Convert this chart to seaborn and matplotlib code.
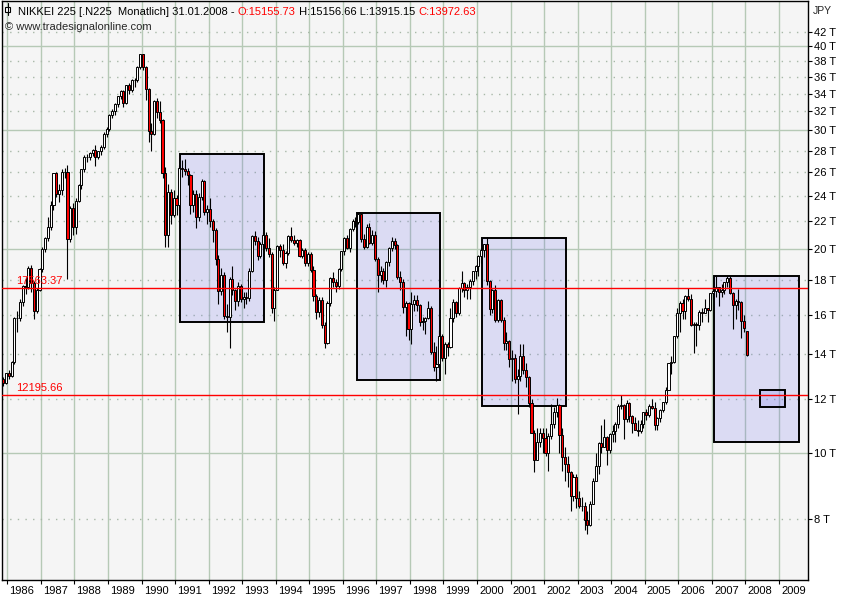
import numpy as np
import pandas as pd
import matplotlib
matplotlib.use("Agg")
import matplotlib.pyplot as plt
import matplotlib.transforms as mtransforms
from matplotlib.patches import Rectangle
from matplotlib.lines import Line2D
from matplotlib.ticker import NullLocator, NullFormatter
import seaborn as sns

# monthly candles of the NIKKEI 225, Nov 1985 .. Jan 2008, in thousand JPY
first_month = "1985-11"

open_ = [
    12.85, 12.70,
    13.11, 13.02, 13.64, 15.86, 15.83, 16.70, 17.65, 17.60, 18.79, 17.85, 16.20, 17.40,  # 1986
    18.70, 20.05, 20.77, 21.57, 23.27, 25.93, 24.18, 24.49, 26.03, 26.01, 20.70, 23.00,  # 1987
    21.56, 23.62, 24.90, 26.26, 27.43, 27.42, 27.77, 28.10, 27.37, 27.92, 28.36, 29.58,  # 1988
    30.16, 31.58, 31.99, 32.84, 33.71, 34.27, 32.95, 34.95, 34.43, 35.64, 35.55, 37.27,  # 1989
    38.92, 37.19, 34.59, 29.98, 29.58, 33.13, 31.94, 31.04, 25.98, 20.98, 24.30, 22.50,  # 1990
    23.85, 23.29, 26.41, 26.29, 26.11, 25.79, 23.29, 24.12, 22.34, 23.92, 25.22, 22.69,  # 1991
    22.98, 22.02, 21.34, 19.35, 17.39, 18.35, 15.95, 15.91, 18.06, 17.40, 16.77, 17.68,  # 1992
    16.92, 17.02, 16.95, 18.59, 20.92, 20.55, 19.59, 20.38, 21.03, 20.11, 19.70, 16.41,  # 1993
    17.42, 20.23, 19.99, 19.11, 19.73, 20.97, 20.64, 20.45, 20.63, 19.56, 19.99, 19.08,  # 1994
    19.72, 18.65, 17.05, 16.14, 16.81, 15.44, 14.52, 16.68, 18.12, 17.91, 17.65, 18.74,  # 1995
    19.87, 20.81, 20.13, 21.41, 22.04, 21.96, 22.53, 20.69, 20.17, 21.56, 20.47, 21.02,  # 1996
    19.36, 18.33, 18.56, 18.00, 19.15, 20.07, 20.61, 20.33, 18.23, 17.89, 16.46, 16.64,  # 1997
    15.26, 16.63, 16.83, 16.53, 15.64, 15.67, 15.83, 16.38, 14.11, 13.41, 13.56, 14.88,  # 1998
    13.84, 14.50, 14.37, 15.84, 16.70, 16.11, 17.53, 17.86, 17.44, 17.61, 17.94, 18.56,  # 1999
    18.93, 19.54, 19.96, 20.34, 17.97, 16.33, 17.41, 15.73, 16.86, 15.75, 14.54, 14.65,  # 2000
    13.79, 13.84, 12.88, 13.00, 13.93, 13.26, 12.97, 11.86, 10.71, 9.77, 10.37, 10.70,   # 2001
    10.54, 10.00, 10.59, 11.02, 11.49, 11.76, 10.62, 9.88, 9.62, 9.38, 8.64, 9.22,       # 2002
    8.58, 8.34, 8.36, 7.97, 7.83, 8.42, 9.08, 9.56, 10.34, 10.22, 10.56, 10.10,          # 2003
    10.68, 10.78, 11.04, 11.72, 11.76, 11.24, 11.86, 11.33, 11.08, 10.82, 10.77, 11.03,  # 2004
    11.49, 11.39, 11.74, 11.67, 11.01, 11.28, 11.58, 11.90, 12.41, 13.57, 13.61, 14.87,  # 2005
    16.11, 16.65, 16.21, 17.06, 16.91, 15.47, 15.51, 15.46, 16.14, 16.13, 16.40, 16.27,  # 2006
    17.23, 17.38, 17.60, 17.29, 17.40, 17.88, 18.14, 17.25, 16.57, 16.79, 16.74, 15.68,  # 2007
    15.156,                                                                              # 2008
]
high = [
    12.95, 13.15,
    13.25, 13.70, 15.90, 16.20, 16.90, 17.70, 18.20, 18.90, 18.95, 17.95, 17.55, 18.80,
    20.20, 20.90, 22.30, 23.60, 25.95, 26.00, 25.00, 26.30, 26.40, 26.65, 23.20, 23.40,
    23.80, 25.00, 26.30, 27.60, 27.70, 27.90, 28.20, 28.50, 28.00, 28.50, 29.80, 30.30,
    31.70, 32.30, 32.90, 33.75, 34.40, 34.45, 35.00, 35.20, 35.70, 35.90, 37.30, 38.96,
    38.95, 37.40, 34.70, 30.80, 33.30, 33.50, 33.20, 31.20, 26.50, 25.00, 24.60, 24.50,
    24.10, 26.70, 27.10, 27.20, 26.40, 25.90, 24.50, 24.50, 24.20, 25.40, 25.30, 23.30,
    23.80, 22.20, 21.50, 19.60, 18.80, 18.50, 16.60, 18.20, 18.90, 17.50, 17.90, 17.80,
    17.30, 17.30, 18.80, 21.00, 21.30, 20.90, 20.50, 21.20, 21.20, 20.80, 19.80, 17.60,
    20.30, 20.40, 20.40, 19.90, 21.00, 21.60, 21.00, 20.70, 20.70, 20.10, 20.10, 19.80,
    19.80, 18.90, 17.20, 17.00, 17.00, 15.60, 16.80, 18.20, 18.50, 18.10, 18.80, 19.90,
    20.90, 21.00, 21.50, 22.20, 22.30, 22.75, 22.60, 21.10, 21.80, 21.90, 21.40, 21.30,
    19.50, 18.90, 18.80, 19.20, 20.20, 20.90, 20.80, 20.40, 18.60, 18.10, 16.80, 16.70,
    17.30, 17.10, 17.10, 16.60, 15.90, 15.90, 16.80, 16.50, 14.60, 14.40, 15.20, 15.00,
    14.60, 14.60, 16.40, 16.90, 16.80, 17.60, 18.60, 17.90, 17.80, 18.10, 18.60, 19.00,
    19.60, 20.10, 20.40, 20.83, 18.00, 17.50, 17.70, 16.90, 16.90, 15.90, 15.10, 14.70,
    14.20, 14.00, 13.30, 14.50, 14.50, 13.60, 13.00, 12.00, 10.80, 10.90, 10.90, 10.90,
    10.90, 10.70, 11.80, 11.70, 12.08, 11.80, 10.90, 10.20, 9.90, 9.40, 9.30, 9.30,
    8.80, 8.60, 8.45, 8.20, 8.50, 9.20, 10.00, 10.40, 11.00, 11.24, 10.60, 10.70,
    11.00, 11.10, 11.80, 12.196, 11.80, 11.99, 11.90, 11.40, 11.30, 11.20, 11.20, 11.50,
    11.60, 11.80, 12.00, 11.90, 11.30, 11.60, 11.90, 12.50, 13.60, 13.90, 14.90, 16.40,
    16.80, 16.90, 17.10, 17.56, 17.20, 15.60, 15.60, 16.30, 16.40, 16.90, 16.40, 17.25,
    17.60, 18.30, 17.60, 17.80, 17.90, 18.30, 18.30, 17.30, 16.90, 17.50, 16.80, 16.00,
    15.157,
]
low = [
    12.55, 12.65,
    12.88, 12.95, 13.55, 15.10, 15.70, 16.50, 17.20, 17.50, 17.30, 15.80, 16.10, 17.35,
    18.50, 19.80, 20.60, 21.40, 22.90, 23.90, 23.50, 24.10, 25.50, 18.10, 20.50, 21.00,
    21.10, 23.50, 24.60, 26.00, 26.90, 27.10, 27.50, 26.60, 27.20, 27.60, 28.20, 29.30,
    29.90, 31.30, 31.60, 32.50, 33.40, 32.50, 32.80, 34.00, 34.20, 34.80, 35.40, 37.00,
    36.80, 33.30, 28.80, 28.00, 29.50, 31.30, 30.80, 25.50, 20.20, 20.20, 21.80, 22.30,
    22.50, 22.90, 25.60, 25.80, 24.90, 22.60, 22.70, 21.50, 22.00, 23.70, 22.50, 21.80,
    21.60, 20.50, 19.00, 16.60, 17.10, 15.80, 15.10, 14.31, 17.10, 16.30, 16.50, 16.70,
    16.40, 16.60, 16.80, 18.50, 20.30, 19.30, 19.40, 20.10, 19.90, 19.50, 16.10, 15.70,
    17.40, 19.50, 19.00, 18.80, 19.60, 20.50, 20.30, 20.20, 19.50, 19.40, 18.90, 18.90,
    18.50, 16.80, 15.80, 15.90, 15.30, 14.30, 14.50, 16.50, 17.60, 17.30, 17.50, 18.60,
    19.60, 20.00, 19.80, 21.30, 21.60, 21.80, 20.50, 20.00, 20.10, 20.40, 20.30, 19.20,
    17.30, 17.90, 17.80, 17.60, 18.90, 19.90, 20.00, 18.10, 17.40, 16.10, 14.90, 14.70,
    14.50, 16.20, 16.20, 15.40, 15.20, 15.00, 15.80, 14.00, 13.20, 12.79, 13.50, 13.70,
    13.10, 13.90, 14.30, 15.60, 15.90, 16.00, 17.30, 17.00, 16.90, 16.90, 17.70, 18.10,
    18.30, 19.10, 19.50, 17.70, 16.00, 16.10, 15.60, 15.60, 15.60, 14.20, 14.20, 13.40,
    12.80, 12.70, 11.43, 12.80, 13.10, 12.50, 11.70, 10.70, 9.38, 9.80, 10.20, 10.00,
    9.90, 9.40, 10.50, 10.90, 11.30, 10.00, 9.40, 9.10, 8.90, 8.20, 8.50, 8.30,
    8.30, 8.20, 7.70, 7.60, 7.80, 8.40, 9.10, 9.30, 10.00, 10.20, 9.60, 10.00,
    10.40, 10.40, 10.90, 11.60, 10.50, 11.10, 11.10, 10.70, 10.80, 10.60, 10.70, 10.90,
    11.20, 11.30, 11.60, 10.80, 10.80, 11.10, 11.50, 11.80, 12.40, 13.10, 13.60, 14.80,
    15.10, 15.80, 15.80, 16.80, 15.40, 14.05, 14.40, 15.20, 15.60, 16.10, 15.60, 16.20,
    16.90, 17.00, 16.50, 17.00, 17.20, 17.60, 17.20, 15.26, 15.80, 16.30, 14.80, 15.10,
    13.915,
]
close = [
    12.70, 13.11,
    13.02, 13.64, 15.86, 15.83, 16.70, 17.65, 17.60, 18.79, 17.85, 16.20, 17.40, 18.70,
    20.05, 20.77, 21.57, 23.27, 25.93, 24.18, 24.49, 26.03, 26.01, 20.70, 23.00, 21.56,
    23.62, 24.90, 26.26, 27.43, 27.42, 27.77, 28.10, 27.37, 27.92, 28.36, 29.58, 30.16,
    31.58, 31.99, 32.84, 33.71, 34.27, 32.95, 34.95, 34.43, 35.64, 35.55, 37.27, 38.92,
    37.19, 34.59, 29.98, 29.58, 33.13, 31.94, 31.04, 25.98, 20.98, 24.30, 22.50, 23.85,
    23.29, 26.41, 26.29, 26.11, 25.79, 23.29, 24.12, 22.34, 23.92, 25.22, 22.69, 22.98,
    22.02, 21.34, 19.35, 17.39, 18.35, 15.95, 15.91, 18.06, 17.40, 16.77, 17.68, 16.92,
    17.02, 16.95, 18.59, 20.92, 20.55, 19.59, 20.38, 21.03, 20.11, 19.70, 16.41, 17.42,
    20.23, 19.99, 19.11, 19.73, 20.97, 20.64, 20.45, 20.63, 19.56, 19.99, 19.08, 19.72,
    18.65, 17.05, 16.14, 16.81, 15.44, 14.52, 16.68, 18.12, 17.91, 17.65, 18.74, 19.87,
    20.81, 20.13, 21.41, 22.04, 21.96, 22.53, 20.69, 20.17, 21.56, 20.47, 21.02, 19.36,
    18.33, 18.56, 18.00, 19.15, 20.07, 20.61, 20.33, 18.23, 17.89, 16.46, 16.64, 15.26,
    16.63, 16.83, 16.53, 15.64, 15.67, 15.83, 16.38, 14.11, 13.41, 13.56, 14.88, 13.84,
    14.50, 14.37, 15.84, 16.70, 16.11, 17.53, 17.86, 17.44, 17.61, 17.94, 18.56, 18.93,
    19.54, 19.96, 20.34, 17.97, 16.33, 17.41, 15.73, 16.86, 15.75, 14.54, 14.65, 13.79,
    13.84, 12.88, 13.00, 13.93, 13.26, 12.97, 11.86, 10.71, 9.77, 10.37, 10.70, 10.54,
    10.00, 10.59, 11.02, 11.49, 11.76, 10.62, 9.88, 9.62, 9.38, 8.64, 9.22, 8.58,
    8.34, 8.36, 7.97, 7.83, 8.42, 9.08, 9.56, 10.34, 10.22, 10.56, 10.10, 10.68,
    10.78, 11.04, 11.72, 11.76, 11.24, 11.86, 11.33, 11.08, 10.82, 10.77, 11.03, 11.49,
    11.39, 11.74, 11.67, 11.01, 11.28, 11.58, 11.90, 12.41, 13.57, 13.61, 14.87, 16.11,
    16.65, 16.21, 17.06, 16.91, 15.47, 15.51, 15.46, 16.14, 16.13, 16.40, 16.27, 17.23,
    17.38, 17.60, 17.29, 17.40, 17.88, 18.14, 17.25, 16.57, 16.79, 16.74, 15.68, 15.31,
    13.973,
]

year_ticks = list(range(1986, 2010))
price_ticks = [8, 10, 12, 14, 16, 18, 20, 22, 24, 26, 28, 30, 32, 34, 36, 38, 40, 42]
solid_levels = [10, 20, 30, 40]

# horizontal marker lines (JPY)
marker_levels = [17563.37, 12195.66]

# highlighted boxes: (from year, to year, low, high) in thousand JPY
boxes = [
    (1991.16, 1993.66, 15.62, 27.66),
    (1996.43, 1998.91, 12.82, 22.62),
    (2000.16, 2002.66, 11.74, 20.78),
    (2007.07, 2009.61, 10.38, 18.27),
    (2008.44, 2009.19, 11.68, 12.38),
]

title_parts = [
    ("NIKKEI 225 [.N225  Monatlich] 31.01.2008 - ", "black"),
    ("O:15155.73", "red"),
    (" H:15156.66 L:13915.15 ", "black"),
    ("C:13972.63", "red"),
]

W, H = 850, 600
grid_c = "#b6c9b6"

sns.set_theme(style="white")
plt.rcParams["font.family"] = ["Liberation Sans", "DejaVu Sans"]

fig = plt.figure(figsize=(W / 100, H / 100), dpi=100)
fig.patch.set_facecolor("white")
ax = fig.add_axes([2 / W, 20 / H, 806 / W, 579 / H])
ax.set_facecolor("#f5f5f5")
ax.set_yscale("log")
ax.set_xlim(1985.84, 2009.866)
ax.set_ylim(6.49, 46.6)

df = pd.DataFrame({"o": open_, "h": high, "l": low, "c": close})
months = pd.period_range(first_month, periods=len(df), freq="M")
df["t"] = months.year + (months.month - 0.5) / 12
up = df["c"] >= df["o"]

# grid
for yr in year_ticks:
    ax.axvline(yr, color=grid_c, lw=1, zorder=0)
for v in price_ticks:
    if v in solid_levels:
        ax.axhline(v, color=grid_c, lw=1, zorder=0)
    else:
        ax.axhline(v, color="#a8b8a8", lw=1, ls=(0, (1, 4.5)), zorder=0)

# boxes
for x0, x1, y0, y1 in boxes:
    ax.add_patch(Rectangle((x0, y0), x1 - x0, y1 - y0, facecolor=(0.45, 0.45, 0.92, 0.2),
                           edgecolor="black", lw=1.4, zorder=2))

# candles
ax.vlines(df["t"], df["l"], df["h"], color="black", lw=0.8, zorder=4)
ax.bar(df["t"], (df["c"] - df["o"]).abs(), bottom=df[["o", "c"]].min(axis=1), width=0.062,
       color=np.where(up, "white", "#ff0000"), edgecolor="black", linewidth=0.7, zorder=5)

# marker lines
lbl_tr = mtransforms.blended_transform_factory(ax.transAxes, ax.transData)
for lv in marker_levels:
    ax.axhline(lv / 1000, color="red", lw=1, zorder=6)
    ax.text(14 / 806, lv / 1000 * 1.006, f"{lv:.2f}", transform=lbl_tr, color="red",
            fontsize=8, va="bottom", ha="left", zorder=7)

# axes styling
for s in ax.spines.values():
    s.set_visible(True)
    s.set_color("black")
    s.set_linewidth(1)

ax.yaxis.tick_right()
ax.set_yticks(price_ticks)
ax.set_yticklabels([f"{v} T" for v in price_ticks])
ax.yaxis.set_minor_locator(NullLocator())
ax.yaxis.set_minor_formatter(NullFormatter())
ax.tick_params(axis="y", which="major", direction="out", length=3, width=0.8,
               pad=1.5, labelsize=8, colors="black", right=True, left=False)

ax.set_xticks(year_ticks)
ax.set_xticklabels([str(y) for y in year_ticks], ha="left")
ax.tick_params(axis="x", which="major", direction="out", length=3, width=0.8,
               pad=1.5, labelsize=8, colors="black", bottom=True)
shift = mtransforms.ScaledTranslation(1.5 / 72, 0, fig.dpi_scale_trans)
for lab in ax.get_xticklabels():
    lab.set_transform(lab.get_transform() + shift)
ax.set_xlabel("")
ax.set_ylabel("")

# header texts
fig.text(813 / W, 1 - 14 / H, "JPY", fontsize=7.5, va="baseline", ha="left")
fig.text(5 / W, 1 - 30 / H, "\u00a9 www.tradesignalonline.com", fontsize=8, va="baseline")

fig.add_artist(Line2D([7.5 / W, 7.5 / W], [1 - 3 / H, 1 - 15 / H], color="black", lw=0.8,
                      transform=fig.transFigure))
fig.add_artist(Rectangle((5 / W, 1 - 12 / H), 5 / W, 5 / H, facecolor="white", edgecolor="black",
                         lw=0.8, transform=fig.transFigure))

fig.canvas.draw()
renderer = fig.canvas.get_renderer()
xpos = 18
for txt, col in title_parts:
    t = fig.text(xpos / W, 1 - 15 / H, txt, color=col, fontsize=8, va="baseline", ha="left")
    xpos = t.get_window_extent(renderer).x1

fig.savefig("out.png", dpi=100)
